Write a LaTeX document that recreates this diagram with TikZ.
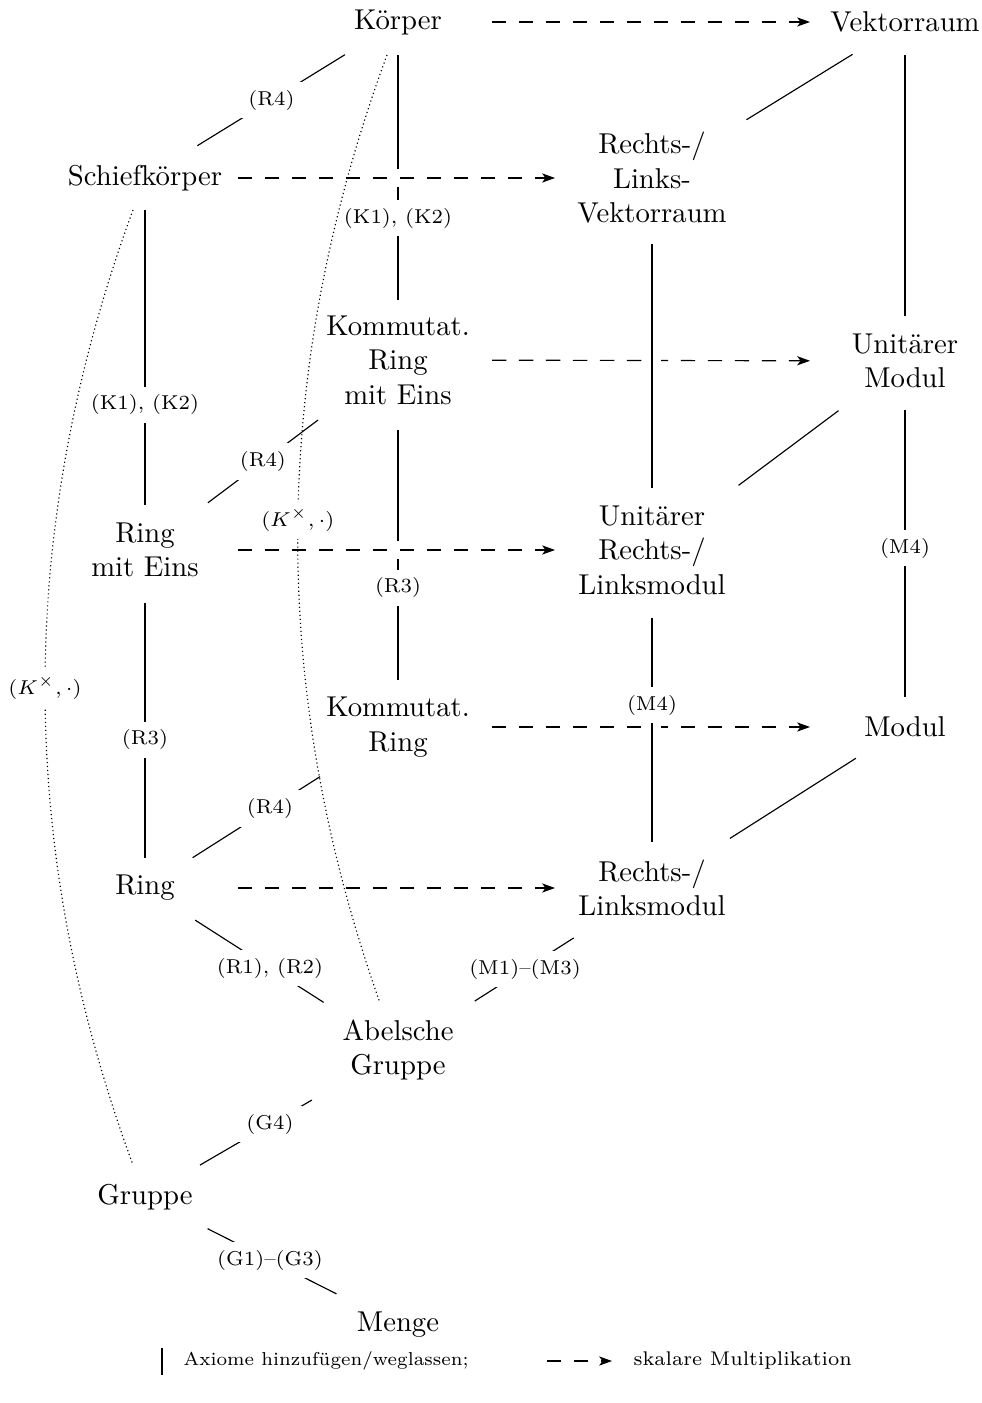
\documentclass[tikz,border=0pt]{standalone}
\usetikzlibrary{arrows.meta,calc}
\pgfdeclarelayer{bg}
\pgfsetlayers{bg,main}
\begin{document}
\begin{tikzpicture}[x=0.3484pt,y=-0.3484pt,
  obj/.style={align=center, inner sep=0pt},
  lbl/.style={font=\scriptsize, fill=white, inner sep=2.8pt},
  sh/.style 2 args={shorten <={#1*0.3484pt}, shorten >={#2*0.3484pt}},
  sm/.style={dash pattern=on 5pt off 4.4pt, -{Stealth[length=4.5pt,width=3.2pt,inset=1.2pt]}},
  over/.style={preaction={draw=white, line width=6pt, solid, arrows=-}},
  dot/.style={densely dotted},
  legtext/.style={anchor=west, inner sep=0pt}
]
\useasboundingbox (0,0) rectangle (982,1403);

% objects
\node[obj] (koerper) at (398,22)  {Körper};
\node[obj] (vr)      at (905,22)  {Vektorraum};
\node[obj] (sk)      at (145,178) {Schiefkörper};
\node[obj] (rlv)     at (652,178) {Rechts-/\\Links-\\Vektorraum};
\node[obj] (krme)    at (398,360) {Kommutat.\\Ring\\mit Eins};
\node[obj] (um)      at (905,361) {Unitärer\\Modul};
\node[obj] (rme)     at (145,550) {Ring\\mit Eins};
\node[obj] (urlm)    at (652,550) {Unitärer\\Rechts-/\\Linksmodul};
\node[obj] (kr)      at (398,727) {Kommutat.\\Ring};
\node[obj] (modul)   at (905,727) {Modul};
\node[obj] (ring)    at (145,888) {Ring};
\node[obj] (rlm)     at (652,888) {Rechts-/\\Linksmodul};
\node[obj] (ag)      at (398,1050) {Abelsche\\Gruppe};
\node[obj] (gruppe)  at (145,1197) {Gruppe};
\node[obj] (menge)   at (398,1325) {Menge};

\begin{pgfonlayer}{bg}
% axioms (solid)
\draw[sh={62.4}{61.6}] (koerper.center) -- node[lbl,pos=0.5]{(R4)} (sk.center);
\draw[sh={33}{60}] (koerper.center) -- node[lbl,pos=0.58]{(K1), (K2)} (krme.center);
\draw[sh={61.6}{111}] (vr.center) -- (rlv.center);
\draw[sh={33}{45}] (vr.center) -- (um.center);
\draw[sh={32}{45}] (sk.center) -- node[lbl,pos=0.61]{(K1), (K2)} (rme.center);
\draw[sh={100}{78.6}] (krme.center) -- node[lbl,pos=0.534]{(R4)} (rme.center);
\draw[sh={70}{47}] (krme.center) -- node[lbl,pos=0.621]{(R3)} (kr.center);
\draw[sh={83}{108}] (um.center) -- (urlm.center);
\draw[sh={49}{30}] (um.center) -- node[lbl,pos=0.511]{(M4)} (modul.center);
\draw[sh={53}{30}] (rme.center) -- node[lbl,pos=0.562]{(R3)} (ring.center);
\draw[sh={92.4}{56.4}] (kr.center) -- node[lbl,pos=0.506]{(R4)} (ring.center);
\draw[sh={58.2}{92.4}] (modul.center) -- (rlm.center);
\draw[sh={59.6}{88.3}] (ring.center) -- node[lbl,pos=0.494]{(R1), (R2)} (ag.center);
\draw[sh={92.9}{91}] (rlm.center) -- node[lbl,pos=0.5]{(M1)--(M3)} (ag.center);
\draw[sh={99.6}{63.6}] (ag.center) -- node[lbl,pos=0.506]{(G4)} (gruppe.center);
\draw[sh={70.2}{68.9}] (gruppe.center) -- node[lbl,pos=0.494]{(G1)--(G3)} (menge.center);

% scalar multiplication (dashed), crossing over column 2
\draw[sm, sh={94}{95}] (koerper.center) -- (vr.center);
\draw[sm, over, sh={93}{97}] (sk.center) -- (rlv.center);
\draw[sm, sh={94}{95}] (krme.center) -- (um.center);
\draw[sm, over, sh={93}{97}] (rme.center) -- (urlm.center);
\draw[sm, sh={94}{95}] (kr.center) -- (modul.center);
\draw[sm, over, sh={93}{97}] (ring.center) -- (rlm.center);

% column 3 verticals crossing over the dashed arrows
\draw[over, sh={66}{62}] (rlv.center) -- (urlm.center);
\draw[over, sh={68}{46}] (urlm.center) -- node[lbl,pos=0.459]{(M4)} (rlm.center);

% dotted curves
\draw[dot] ($(koerper.center)+(-11,33)$) .. controls (270.3,371) and (268,687) .. node[lbl,pos=0.49]{$(K^\times,\cdot)$} ($(ag.center)+(-18,-47)$);
\draw[dot] ($(sk.center)+(-12,32)$) .. controls (15.7,528.7) and (15.7,847) .. node[lbl,pos=0.5]{$(K^\times,\cdot)$} ($(gruppe.center)+(-12,-32)$);
\end{pgfonlayer}

% legend
\coordinate (barT) at (162,1348);
\coordinate (barB) at (162,1375);
\draw (barT) -- (barB);
\node[legtext, font=\fontsize{6.5pt}{8pt}\selectfont] (legA) at (183,1361) {Axiome hinzufügen/weglassen;};
\coordinate (smS) at (547,1361);
\coordinate (smE) at (612,1361);
\draw[sm] (smS) -- (smE);
\node[legtext, font=\fontsize{6.9pt}{8pt}\selectfont] (legB) at (633,1361) {skalare Multiplikation};
\end{tikzpicture}
\end{document}
